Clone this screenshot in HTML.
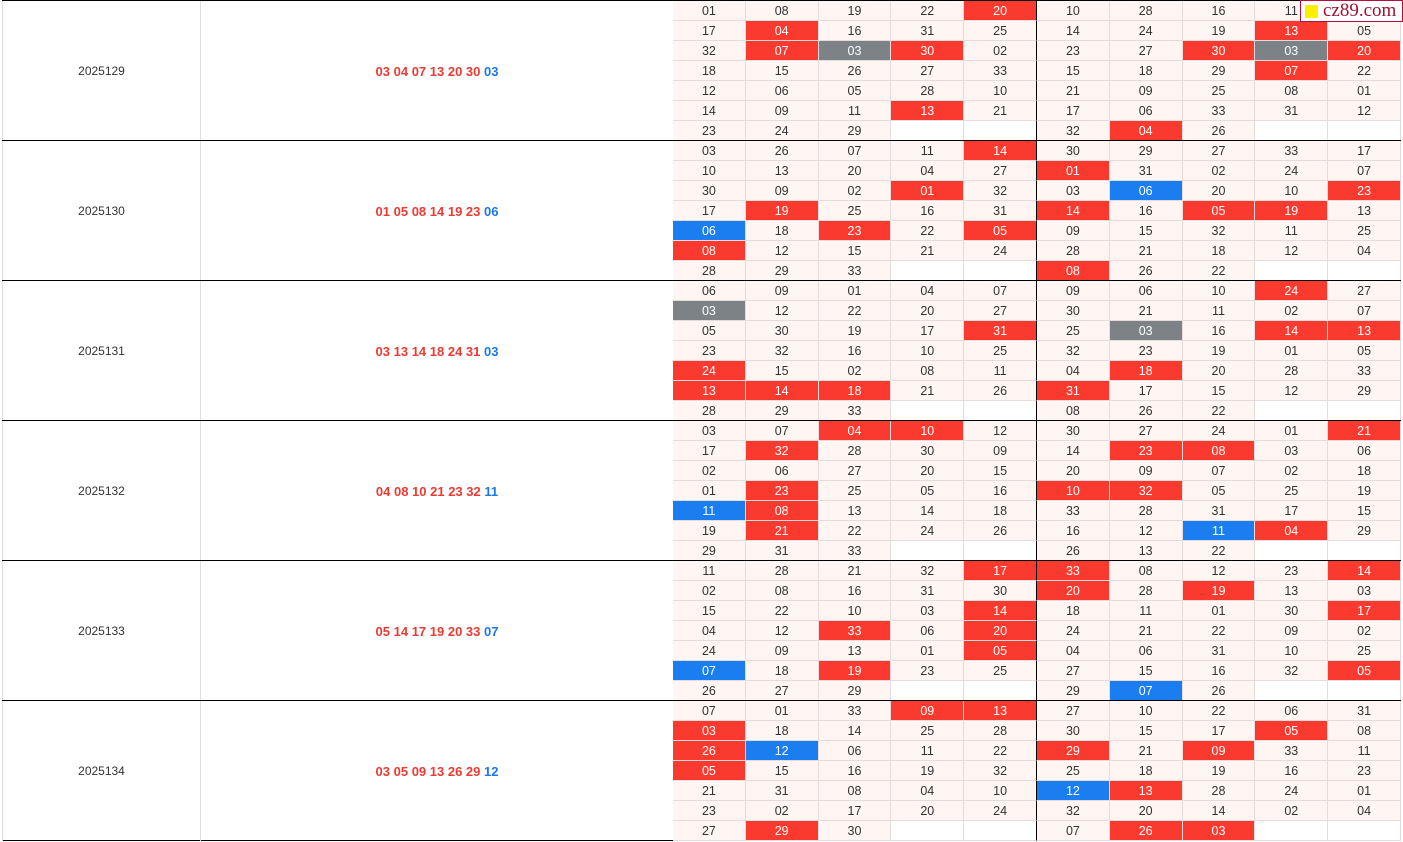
<!DOCTYPE html>
<html><head><meta charset="utf-8"><style>
*{margin:0;padding:0;box-sizing:border-box}
body{width:1403px;height:841px;background:#fff;font-family:"Liberation Sans","DejaVu Sans",sans-serif;overflow:hidden;position:relative}
.g{position:absolute;left:2px;width:1399px;height:140px;border-top:1px solid #000}
.d{position:absolute;left:0;top:0;width:199px;height:140px;border-left:1px solid #ddd;border-right:1px solid #ddd;font-size:12px;color:#333;text-align:center;line-height:141px}
.n{position:absolute;left:199px;top:0;width:472px;height:140px;font-size:13px;font-weight:bold;color:#ec3a32;text-align:center;line-height:141px}
.n span{color:#1a78e8}
.t{position:absolute;left:671px;top:0px;width:728px;height:140px;display:grid;grid-template-columns:repeat(10,1fr);grid-template-rows:repeat(7,20px)}
.t i{font-style:normal;display:block;background:#fff5f3;border-right:1px solid #e6dada;border-bottom:1px solid #e6dada;font-size:12.5px;color:#333;text-align:center;line-height:21px}
.t i:nth-child(10n+5){border-right:1px solid #000}
.t i.r{background:#fb3a2f;color:#fff}
.t i.b{background:#1a7ef0;color:#fff}
.t i.k{background:#7d8286;color:#fff}
.t i.e{background:#fff}
.logo{position:absolute;left:1300px;top:0;width:103px;height:22px;background:#fff;border:1px solid #b0103a;font-family:"Liberation Serif",serif;font-size:19px;color:#a01030;line-height:20px;padding-left:22px}
.logo b{position:absolute;left:4px;top:4px;width:13px;height:13px;background:#ffee00}
</style></head><body>

<div class="g" style="top:0">
<div class="d">2025129</div><div class="n">03 04 07 13 20 30 <span>03</span></div>
<div class="t">
<i>01</i><i>08</i><i>19</i><i>22</i><i class="r">20</i><i>10</i><i>28</i><i>16</i><i>11</i><i>&nbsp;</i>
<i>17</i><i class="r">04</i><i>16</i><i>31</i><i>25</i><i>14</i><i>24</i><i>19</i><i class="r">13</i><i>05</i>
<i>32</i><i class="r">07</i><i class="k">03</i><i class="r">30</i><i>02</i><i>23</i><i>27</i><i class="r">30</i><i class="k">03</i><i class="r">20</i>
<i>18</i><i>15</i><i>26</i><i>27</i><i>33</i><i>15</i><i>18</i><i>29</i><i class="r">07</i><i>22</i>
<i>12</i><i>06</i><i>05</i><i>28</i><i>10</i><i>21</i><i>09</i><i>25</i><i>08</i><i>01</i>
<i>14</i><i>09</i><i>11</i><i class="r">13</i><i>21</i><i>17</i><i>06</i><i>33</i><i>31</i><i>12</i>
<i>23</i><i>24</i><i>29</i><i class="e"></i><i class="e"></i><i>32</i><i class="r">04</i><i>26</i><i class="e"></i><i class="e"></i>
</div></div>

<div class="g" style="top:140px">
<div class="d">2025130</div><div class="n">01 05 08 14 19 23 <span>06</span></div>
<div class="t">
<i>03</i><i>26</i><i>07</i><i>11</i><i class="r">14</i><i>30</i><i>29</i><i>27</i><i>33</i><i>17</i>
<i>10</i><i>13</i><i>20</i><i>04</i><i>27</i><i class="r">01</i><i>31</i><i>02</i><i>24</i><i>07</i>
<i>30</i><i>09</i><i>02</i><i class="r">01</i><i>32</i><i>03</i><i class="b">06</i><i>20</i><i>10</i><i class="r">23</i>
<i>17</i><i class="r">19</i><i>25</i><i>16</i><i>31</i><i class="r">14</i><i>16</i><i class="r">05</i><i class="r">19</i><i>13</i>
<i class="b">06</i><i>18</i><i class="r">23</i><i>22</i><i class="r">05</i><i>09</i><i>15</i><i>32</i><i>11</i><i>25</i>
<i class="r">08</i><i>12</i><i>15</i><i>21</i><i>24</i><i>28</i><i>21</i><i>18</i><i>12</i><i>04</i>
<i>28</i><i>29</i><i>33</i><i class="e"></i><i class="e"></i><i class="r">08</i><i>26</i><i>22</i><i class="e"></i><i class="e"></i>
</div></div>

<div class="g" style="top:280px">
<div class="d">2025131</div><div class="n">03 13 14 18 24 31 <span>03</span></div>
<div class="t">
<i>06</i><i>09</i><i>01</i><i>04</i><i>07</i><i>09</i><i>06</i><i>10</i><i class="r">24</i><i>27</i>
<i class="k">03</i><i>12</i><i>22</i><i>20</i><i>27</i><i>30</i><i>21</i><i>11</i><i>02</i><i>07</i>
<i>05</i><i>30</i><i>19</i><i>17</i><i class="r">31</i><i>25</i><i class="k">03</i><i>16</i><i class="r">14</i><i class="r">13</i>
<i>23</i><i>32</i><i>16</i><i>10</i><i>25</i><i>32</i><i>23</i><i>19</i><i>01</i><i>05</i>
<i class="r">24</i><i>15</i><i>02</i><i>08</i><i>11</i><i>04</i><i class="r">18</i><i>20</i><i>28</i><i>33</i>
<i class="r">13</i><i class="r">14</i><i class="r">18</i><i>21</i><i>26</i><i class="r">31</i><i>17</i><i>15</i><i>12</i><i>29</i>
<i>28</i><i>29</i><i>33</i><i class="e"></i><i class="e"></i><i>08</i><i>26</i><i>22</i><i class="e"></i><i class="e"></i>
</div></div>

<div class="g" style="top:420px">
<div class="d">2025132</div><div class="n">04 08 10 21 23 32 <span>11</span></div>
<div class="t">
<i>03</i><i>07</i><i class="r">04</i><i class="r">10</i><i>12</i><i>30</i><i>27</i><i>24</i><i>01</i><i class="r">21</i>
<i>17</i><i class="r">32</i><i>28</i><i>30</i><i>09</i><i>14</i><i class="r">23</i><i class="r">08</i><i>03</i><i>06</i>
<i>02</i><i>06</i><i>27</i><i>20</i><i>15</i><i>20</i><i>09</i><i>07</i><i>02</i><i>18</i>
<i>01</i><i class="r">23</i><i>25</i><i>05</i><i>16</i><i class="r">10</i><i class="r">32</i><i>05</i><i>25</i><i>19</i>
<i class="b">11</i><i class="r">08</i><i>13</i><i>14</i><i>18</i><i>33</i><i>28</i><i>31</i><i>17</i><i>15</i>
<i>19</i><i class="r">21</i><i>22</i><i>24</i><i>26</i><i>16</i><i>12</i><i class="b">11</i><i class="r">04</i><i>29</i>
<i>29</i><i>31</i><i>33</i><i class="e"></i><i class="e"></i><i>26</i><i>13</i><i>22</i><i class="e"></i><i class="e"></i>
</div></div>

<div class="g" style="top:560px">
<div class="d">2025133</div><div class="n">05 14 17 19 20 33 <span>07</span></div>
<div class="t">
<i>11</i><i>28</i><i>21</i><i>32</i><i class="r">17</i><i class="r">33</i><i>08</i><i>12</i><i>23</i><i class="r">14</i>
<i>02</i><i>08</i><i>16</i><i>31</i><i>30</i><i class="r">20</i><i>28</i><i class="r">19</i><i>13</i><i>03</i>
<i>15</i><i>22</i><i>10</i><i>03</i><i class="r">14</i><i>18</i><i>11</i><i>01</i><i>30</i><i class="r">17</i>
<i>04</i><i>12</i><i class="r">33</i><i>06</i><i class="r">20</i><i>24</i><i>21</i><i>22</i><i>09</i><i>02</i>
<i>24</i><i>09</i><i>13</i><i>01</i><i class="r">05</i><i>04</i><i>06</i><i>31</i><i>10</i><i>25</i>
<i class="b">07</i><i>18</i><i class="r">19</i><i>23</i><i>25</i><i>27</i><i>15</i><i>16</i><i>32</i><i class="r">05</i>
<i>26</i><i>27</i><i>29</i><i class="e"></i><i class="e"></i><i>29</i><i class="b">07</i><i>26</i><i class="e"></i><i class="e"></i>
</div></div>

<div class="g" style="top:700px;border-bottom:1px solid #000;height:141px">
<div class="d">2025134</div><div class="n">03 05 09 13 26 29 <span>12</span></div>
<div class="t">
<i>07</i><i>01</i><i>33</i><i class="r">09</i><i class="r">13</i><i>27</i><i>10</i><i>22</i><i>06</i><i>31</i>
<i class="r">03</i><i>18</i><i>14</i><i>25</i><i>28</i><i>30</i><i>15</i><i>17</i><i class="r">05</i><i>08</i>
<i class="r">26</i><i class="b">12</i><i>06</i><i>11</i><i>22</i><i class="r">29</i><i>21</i><i class="r">09</i><i>33</i><i>11</i>
<i class="r">05</i><i>15</i><i>16</i><i>19</i><i>32</i><i>25</i><i>18</i><i>19</i><i>16</i><i>23</i>
<i>21</i><i>31</i><i>08</i><i>04</i><i>10</i><i class="b">12</i><i class="r">13</i><i>28</i><i>24</i><i>01</i>
<i>23</i><i>02</i><i>17</i><i>20</i><i>24</i><i>32</i><i>20</i><i>14</i><i>02</i><i>04</i>
<i>27</i><i class="r">29</i><i>30</i><i class="e"></i><i class="e"></i><i>07</i><i class="r">26</i><i class="r">03</i><i class="e"></i><i class="e"></i>
</div></div>

<div class="logo"><b></b>cz89.com</div>
</body></html>
